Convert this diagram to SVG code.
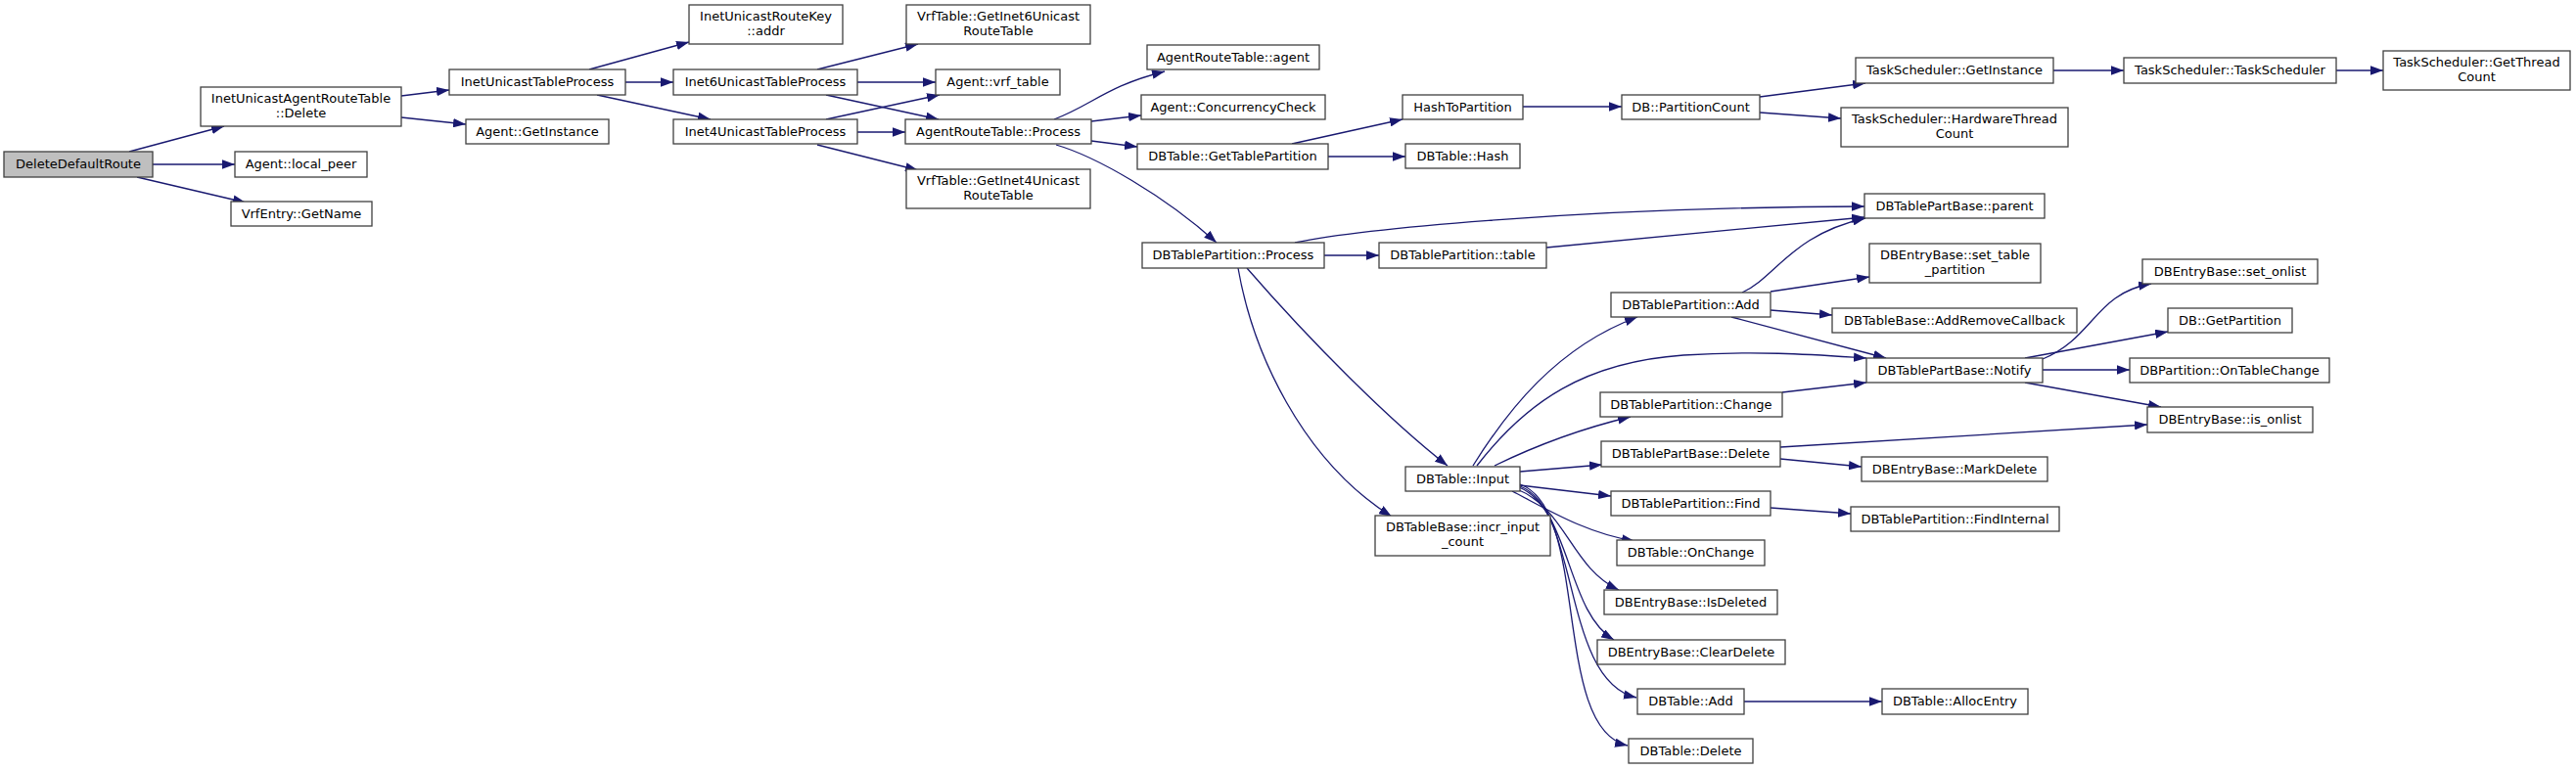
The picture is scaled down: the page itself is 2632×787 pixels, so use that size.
<svg xmlns="http://www.w3.org/2000/svg" width="2632" height="787" viewBox="0 0 2632 787">
<style>
.n rect{fill:#fff;stroke:#404040;stroke-width:1.3}
.n.root rect{fill:#bfbfbf}
.n text{font-family:"DejaVu Sans",sans-serif;font-size:13px;fill:#000;text-anchor:middle}
.e path{fill:none;stroke:#191970;stroke-width:1.3;marker-end:url(#a)}
</style>
<defs>
<marker id="a" markerUnits="userSpaceOnUse" viewBox="0 0 13 9.4" refX="13" refY="4.7" markerWidth="13" markerHeight="9.4" orient="auto">
<path d="M0,0 L13,4.7 L0,9.4 z" fill="#191970"/>
</marker>
</defs>
<rect width="2632" height="787" fill="#fff"/>
<g id="edges" class="e">
<path d="M132,155 L229,129"/>
<path d="M156,168 L240,168"/>
<path d="M140,181 L251,207"/>
<path d="M410,98 L459,92"/>
<path d="M410,120 L476,127"/>
<path d="M602,71 L704,43"/>
<path d="M639,84 L688,84"/>
<path d="M610,97 L726,122"/>
<path d="M835,71 L938,45"/>
<path d="M876,84 L956,84"/>
<path d="M844,97 L959,122"/>
<path d="M844,122 L960,97"/>
<path d="M876,135 L925,135"/>
<path d="M835,148 L938,174"/>
<path d="M1077,122 C1115,108 1130,88 1190,73"/>
<path d="M1115,124 L1166,118"/>
<path d="M1115,144 L1162,150"/>
<path d="M1079,148 C1120,160 1190,200 1243,248"/>
<path d="M1320,147 L1433,122"/>
<path d="M1357,160 L1436,160"/>
<path d="M1556,109 L1657,109"/>
<path d="M1798,99 L1906,85"/>
<path d="M1798,115 L1881,121"/>
<path d="M2098,72 L2170,72"/>
<path d="M2387,72 L2435,72"/>
<path d="M1323,248 C1380,236 1600,212 1905,211"/>
<path d="M1353,261 L1409,261"/>
<path d="M1274,274 C1340,350 1420,430 1479,476"/>
<path d="M1265,274 C1280,360 1330,470 1422,528"/>
<path d="M1580,253 L1905,222"/>
<path d="M1780,299 C1815,283 1830,240 1906,223"/>
<path d="M1809,298 L1910,283"/>
<path d="M1809,317 L1872,322"/>
<path d="M1769,324 L1927,366"/>
<path d="M1505,476 C1540,420 1590,355 1673,324"/>
<path d="M1509,476 C1560,410 1620,370 1720,363 C1800,358 1860,363 1907,366"/>
<path d="M1527,476 C1570,455 1620,437 1666,426"/>
<path d="M1553,482 L1637,475"/>
<path d="M1553,496 L1646,507"/>
<path d="M1545,502 C1580,520 1620,545 1670,553"/>
<path d="M1550,500 C1600,520 1605,580 1654,603"/>
<path d="M1552,498 C1605,520 1600,625 1649,654"/>
<path d="M1553,497 C1615,520 1595,695 1672,713"/>
<path d="M1553,495 C1625,520 1585,745 1663,762"/>
<path d="M1821,401 L1907,391"/>
<path d="M1819,457 L2194,434"/>
<path d="M1819,469 L1902,477"/>
<path d="M1809,519 L1891,525"/>
<path d="M2087,367 C2140,345 2140,300 2198,290"/>
<path d="M2069,366 L2215,339"/>
<path d="M2087,378 L2176,378"/>
<path d="M2069,391 L2208,416"/>
<path d="M1782,717 L1923,717"/>
</g>
<g id="n1" class="n root"><rect x="4" y="155" width="152" height="26"/><text x="80" y="172">DeleteDefaultRoute</text></g>
<g id="n2" class="n"><rect x="205" y="89" width="205" height="40"/><text x="307.5" y="105">InetUnicastAgentRouteTable</text><text x="307.5" y="120">::Delete</text></g>
<g id="n3" class="n"><rect x="240" y="155" width="135" height="26"/><text x="307.5" y="172">Agent::local_peer</text></g>
<g id="n4" class="n"><rect x="236" y="206" width="144" height="25"/><text x="308" y="223">VrfEntry::GetName</text></g>
<g id="n5" class="n"><rect x="459" y="71" width="180" height="26"/><text x="549" y="88">InetUnicastTableProcess</text></g>
<g id="n6" class="n"><rect x="476" y="122" width="146" height="25"/><text x="549" y="139">Agent::GetInstance</text></g>
<g id="n7" class="n"><rect x="704" y="5" width="157" height="40"/><text x="782.5" y="21">InetUnicastRouteKey</text><text x="782.5" y="36">::addr</text></g>
<g id="n8" class="n"><rect x="688" y="71" width="188" height="26"/><text x="782" y="88">Inet6UnicastTableProcess</text></g>
<g id="n9" class="n"><rect x="688" y="122" width="188" height="25"/><text x="782" y="139">Inet4UnicastTableProcess</text></g>
<g id="n10" class="n"><rect x="926" y="5" width="188" height="40"/><text x="1020" y="21">VrfTable::GetInet6Unicast</text><text x="1020" y="36">RouteTable</text></g>
<g id="n11" class="n"><rect x="956" y="71" width="127" height="26"/><text x="1019.5" y="88">Agent::vrf_table</text></g>
<g id="n12" class="n"><rect x="925" y="122" width="190" height="25"/><text x="1020" y="139">AgentRouteTable::Process</text></g>
<g id="n13" class="n"><rect x="926" y="173" width="188" height="40"/><text x="1020" y="189">VrfTable::GetInet4Unicast</text><text x="1020" y="204">RouteTable</text></g>
<g id="n14" class="n"><rect x="1172" y="46" width="176" height="25"/><text x="1260" y="63">AgentRouteTable::agent</text></g>
<g id="n15" class="n"><rect x="1166" y="97" width="188" height="25"/><text x="1260" y="114">Agent::ConcurrencyCheck</text></g>
<g id="n16" class="n"><rect x="1162" y="147" width="195" height="26"/><text x="1259.5" y="164">DBTable::GetTablePartition</text></g>
<g id="n17" class="n"><rect x="1167" y="248" width="186" height="26"/><text x="1260" y="265">DBTablePartition::Process</text></g>
<g id="n18" class="n"><rect x="1433" y="97" width="123" height="25"/><text x="1494.5" y="114">HashToPartition</text></g>
<g id="n19" class="n"><rect x="1436" y="147" width="117" height="25"/><text x="1494.5" y="164">DBTable::Hash</text></g>
<g id="n20" class="n"><rect x="1409" y="248" width="171" height="26"/><text x="1494.5" y="265">DBTablePartition::table</text></g>
<g id="n21" class="n"><rect x="1436" y="477" width="117" height="25"/><text x="1494.5" y="494">DBTable::Input</text></g>
<g id="n22" class="n"><rect x="1405" y="527" width="179" height="41"/><text x="1494.5" y="543">DBTableBase::incr_input</text><text x="1494.5" y="558">_count</text></g>
<g id="n23" class="n"><rect x="1657" y="97" width="141" height="25"/><text x="1727.5" y="114">DB::PartitionCount</text></g>
<g id="n24" class="n"><rect x="1646" y="299" width="163" height="25"/><text x="1727.5" y="316">DBTablePartition::Add</text></g>
<g id="n25" class="n"><rect x="1635" y="401" width="186" height="25"/><text x="1728" y="418">DBTablePartition::Change</text></g>
<g id="n26" class="n"><rect x="1636" y="451" width="183" height="26"/><text x="1727.5" y="468">DBTablePartBase::Delete</text></g>
<g id="n27" class="n"><rect x="1646" y="502" width="163" height="25"/><text x="1727.5" y="519">DBTablePartition::Find</text></g>
<g id="n28" class="n"><rect x="1652" y="552" width="151" height="26"/><text x="1727.5" y="569">DBTable::OnChange</text></g>
<g id="n29" class="n"><rect x="1639" y="603" width="177" height="25"/><text x="1727.5" y="620">DBEntryBase::IsDeleted</text></g>
<g id="n30" class="n"><rect x="1632" y="654" width="192" height="25"/><text x="1728" y="671">DBEntryBase::ClearDelete</text></g>
<g id="n31" class="n"><rect x="1673" y="704" width="109" height="26"/><text x="1727.5" y="721">DBTable::Add</text></g>
<g id="n32" class="n"><rect x="1664" y="755" width="127" height="25"/><text x="1727.5" y="772">DBTable::Delete</text></g>
<g id="n33" class="n"><rect x="1896" y="59" width="202" height="26"/><text x="1997" y="76">TaskScheduler::GetInstance</text></g>
<g id="n34" class="n"><rect x="1881" y="110" width="232" height="40"/><text x="1997" y="126">TaskScheduler::HardwareThread</text><text x="1997" y="141">Count</text></g>
<g id="n35" class="n"><rect x="1905" y="198" width="184" height="25"/><text x="1997" y="215">DBTablePartBase::parent</text></g>
<g id="n36" class="n"><rect x="1910" y="249" width="175" height="40"/><text x="1997.5" y="265">DBEntryBase::set_table</text><text x="1997.5" y="280">_partition</text></g>
<g id="n37" class="n"><rect x="1872" y="315" width="250" height="25"/><text x="1997" y="332">DBTableBase::AddRemoveCallback</text></g>
<g id="n38" class="n"><rect x="1907" y="366" width="180" height="25"/><text x="1997" y="383">DBTablePartBase::Notify</text></g>
<g id="n39" class="n"><rect x="1902" y="467" width="190" height="25"/><text x="1997" y="484">DBEntryBase::MarkDelete</text></g>
<g id="n40" class="n"><rect x="1891" y="518" width="213" height="25"/><text x="1997.5" y="535">DBTablePartition::FindInternal</text></g>
<g id="n41" class="n"><rect x="1923" y="704" width="149" height="26"/><text x="1997.5" y="721">DBTable::AllocEntry</text></g>
<g id="n42" class="n"><rect x="2170" y="59" width="217" height="26"/><text x="2278.5" y="76">TaskScheduler::TaskScheduler</text></g>
<g id="n43" class="n"><rect x="2189" y="265" width="179" height="25"/><text x="2278.5" y="282">DBEntryBase::set_onlist</text></g>
<g id="n44" class="n"><rect x="2215" y="315" width="127" height="25"/><text x="2278.5" y="332">DB::GetPartition</text></g>
<g id="n45" class="n"><rect x="2176" y="366" width="204" height="25"/><text x="2278" y="383">DBPartition::OnTableChange</text></g>
<g id="n46" class="n"><rect x="2194" y="416" width="169" height="26"/><text x="2278.5" y="433">DBEntryBase::is_onlist</text></g>
<g id="n47" class="n"><rect x="2435" y="52" width="191" height="40"/><text x="2530.5" y="68">TaskScheduler::GetThread</text><text x="2530.5" y="83">Count</text></g>
</svg>
